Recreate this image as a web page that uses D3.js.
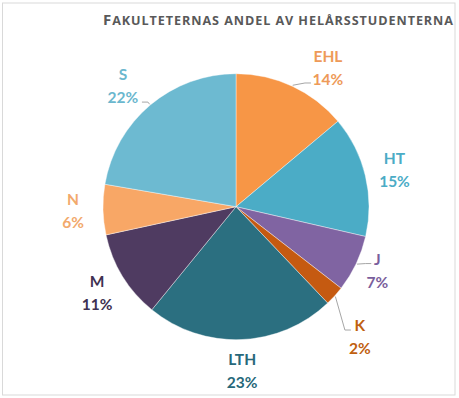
<!DOCTYPE html>
<html>
<head>
<meta http-equiv="Content-type" content="text/html; charset=utf-8">
<title>Fakulteternas andel</title>
<script src="https://cdn.jsdelivr.net/npm/d3@7"></script>
<style>
  body { margin: 0; background: #fff; }
  svg text { font-family: Lato, "Open Sans", sans-serif; }
</style>
</head>
<body>
<script type="text/javascript">

  // data (share of full-time students, %)
  var faculties = ["EHL", "HT", "J", "K", "LTH", "M", "N", "S"];
  var shares = [13.9, 14.7, 6.9, 2.4, 23.0, 10.7, 6.1, 22.3];
  var sliceColors = ["#F79646", "#4BACC6", "#8064A2", "#C55A11", "#2B6F80", "#4F3B61", "#F8A766", "#6DBAD1"];
  var labelColors = ["#EE9A58", "#4BACC6", "#7A5E9C", "#C0600F", "#27687A", "#403152", "#F2A96C", "#6BB7CE"];
  var titleText = "FAKULTETERNAS ANDEL AV HELÅRSSTUDENTERNA";

  var width = 459, height = 398;
  var cx = 236, cy = 206.7, radius = 133;
  var labelRadius = 163;

  // excel best-fit moved a few labels; and which labels get a leader line
  var nudge = { EHL: [23, 8], J: [-6, -7], K: [3, 20], S: [-8, 3] };
  var leaders = { EHL: true, S: true, J: true, K: true };

  var rows = faculties.map(function (f, i) {
    return { name: f, value: shares[i], color: sliceColors[i], tcolor: labelColors[i] };
  });
  var total = d3.sum(shares);
  var pct = function (v) { return Math.round(v / total * 100) + "%"; };

  var svg = d3.select("body").append("svg")
    .attr("width", width)
    .attr("height", height);

  svg.append("rect")
    .attr("x", 2.5).attr("y", 3)
    .attr("width", 452.5).attr("height", 392)
    .attr("fill", "#fff")
    .attr("stroke", "#D9D9D9");

  // title, small caps look
  var title = svg.append("text")
    .attr("x", 453).attr("y", 25)
    .attr("text-anchor", "end")
    .attr("fill", "#595959")
    .style("font-family", "'Open Sans', sans-serif")
    .attr("font-weight", "bold")
    .attr("textLength", 350)
    .attr("lengthAdjust", "spacing");
  title.append("tspan").attr("font-size", 15).text(titleText.slice(0, 1));
  title.append("tspan").attr("font-size", 12.6).text(titleText.slice(1));

  var pie = d3.pie().sort(null).value(function (d) { return d.value; });
  var arcs = pie(rows);
  var arc = d3.arc().innerRadius(0).outerRadius(radius);

  var g = svg.append("g").attr("transform", "translate(" + cx + "," + cy + ")");

  g.selectAll("path.slice")
    .data(arcs)
    .enter().append("path")
    .attr("class", "slice")
    .attr("d", arc)
    .attr("fill", function (d) { return d.data.color; })
    .attr("stroke", "#fff")
    .attr("stroke-width", 0.4);

  function midAngle(d) { return (d.startAngle + d.endAngle) / 2; }

  arcs.forEach(function (d) {
    var a = midAngle(d);
    var n = nudge[d.data.name] || [0, 0];
    d.lx = labelRadius * Math.sin(a) + n[0];
    d.ly = -labelRadius * Math.cos(a) + n[1];
  });

  // leader lines
  arcs.filter(function (d) { return leaders[d.data.name]; }).forEach(function (d) {
    var a = midAngle(d);
    var sx = (radius + 1) * Math.sin(a), sy = -(radius + 1) * Math.cos(a);
    var right = sx > d.lx;
    var name = d.data.name;
    var ex, ey;
    if (name === "EHL") { ex = d.lx - 17; ey = d.ly + 16; }
    else if (name === "S") { ex = d.lx + 19; ey = d.ly + 17; }
    else if (name === "J") { ex = d.lx - 6; ey = d.ly - 6; }
    else { ex = d.lx - 9; ey = d.ly - 6; }
    var kx = ex + (right ? 6 : -6);
    g.append("polyline")
      .attr("points", [[sx, sy], [kx, ey], [ex, ey]].join(" "))
      .attr("fill", "none")
      .attr("stroke", "#A6A6A6")
      .attr("stroke-width", 1);
  });

  var labels = g.selectAll("text.lbl")
    .data(arcs)
    .enter().append("text")
    .attr("class", "lbl")
    .attr("text-anchor", "middle")
    .attr("font-size", 15.5)
    .attr("font-weight", "bold")
    .attr("fill", function (d) { return d.data.tcolor; });

  labels.append("tspan")
    .attr("x", function (d) { return d.lx; })
    .attr("y", function (d) { return d.ly - 5; })
    .text(function (d) { return d.data.name; });
  labels.append("tspan")
    .attr("x", function (d) { return d.lx; })
    .attr("y", function (d) { return d.ly + 18; })
    .text(function (d) { return pct(d.data.value); });

</script>
</body>
</html>
